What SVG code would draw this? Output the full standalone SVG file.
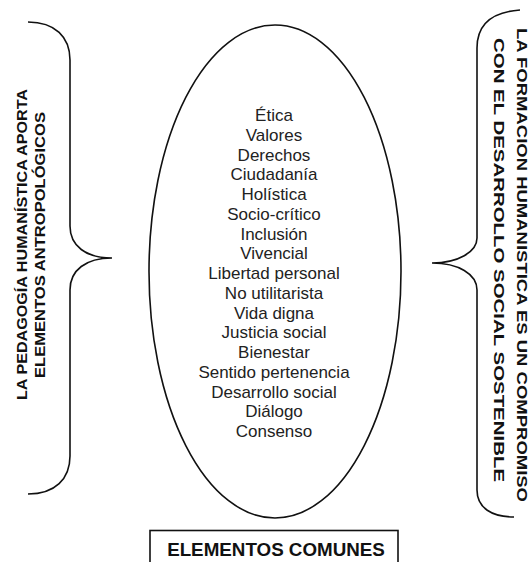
<svg xmlns="http://www.w3.org/2000/svg" width="531" height="562" viewBox="0 0 531 562">
<style>
.ln{fill:none;stroke:#111;stroke-width:1.6}
.ttl{font-family:"Liberation Sans",Arial,sans-serif;font-weight:bold;font-size:15px;fill:#111}
.itm{font-family:"Liberation Sans",Arial,sans-serif;font-size:17px;fill:#222;text-anchor:middle}
.box{font-family:"Liberation Sans",Arial,sans-serif;font-weight:bold;font-size:18.8px;fill:#111;text-anchor:middle}
</style>
<rect width="531" height="562" fill="#fff"/>
<g id="left-title">
<path class="ln" d="M28,22 C55,22 70,37 70,60 L70,226 C70,246 86,258 112,258 C86,258 70,270 70,290 L70,456 C70,479 55,494 28,494"/>
<text class="ttl" transform="translate(26.5,244.5) rotate(-90)" text-anchor="middle" textLength="311" lengthAdjust="spacingAndGlyphs">LA PEDAGOGÍA HUMANÍSTICA APORTA</text>
<text class="ttl" transform="translate(44.5,245) rotate(-90)" text-anchor="middle" textLength="266" lengthAdjust="spacingAndGlyphs">ELEMENTOS ANTROPOLÓGICOS</text>
</g>
<g id="common-elements">
<ellipse class="ln" cx="275" cy="271.5" rx="126" ry="246.5"/>
<text class="itm" x="274" y="121">Ética</text>
<text class="itm" x="274" y="140.8">Valores</text>
<text class="itm" x="274" y="160.5">Derechos</text>
<text class="itm" x="274" y="180.3">Ciudadanía</text>
<text class="itm" x="274" y="200">Holística</text>
<text class="itm" x="274" y="219.8">Socio-crítico</text>
<text class="itm" x="274" y="239.5">Inclusión</text>
<text class="itm" x="274" y="259.3">Vivencial</text>
<text class="itm" x="274" y="279">Libertad personal</text>
<text class="itm" x="274" y="298.8">No utilitarista</text>
<text class="itm" x="274" y="318.5">Vida digna</text>
<text class="itm" x="274" y="338.3">Justicia social</text>
<text class="itm" x="274" y="358">Bienestar</text>
<text class="itm" x="274" y="377.8">Sentido pertenencia</text>
<text class="itm" x="274" y="397.5">Desarrollo social</text>
<text class="itm" x="274" y="417.3">Diálogo</text>
<text class="itm" x="274" y="437">Consenso</text>
</g>
<g id="right-title">
<path class="ln" d="M520,10 C492,12 477,24 477,48 L477,238 C477,252 458,263 432,263 C458,263 477,274 477,290 L477,490 C477,508 492,517 514,517"/>
<text class="ttl" transform="translate(517,265) rotate(90)" text-anchor="middle" textLength="474" lengthAdjust="spacingAndGlyphs">LA FORMACION HUMANISTICA ES UN COMPROMISO</text>
<text class="ttl" transform="translate(494,260) rotate(90)" text-anchor="middle" textLength="444" lengthAdjust="spacingAndGlyphs">CON EL DESARROLLO SOCIAL SOSTENIBLE</text>
</g>
<g id="label-box">
<rect class="ln" x="150" y="530.5" width="248" height="45"/>
<text class="box" x="276" y="555.5">ELEMENTOS COMUNES</text>
</g>
<g id="connectors"></g>
</svg>
